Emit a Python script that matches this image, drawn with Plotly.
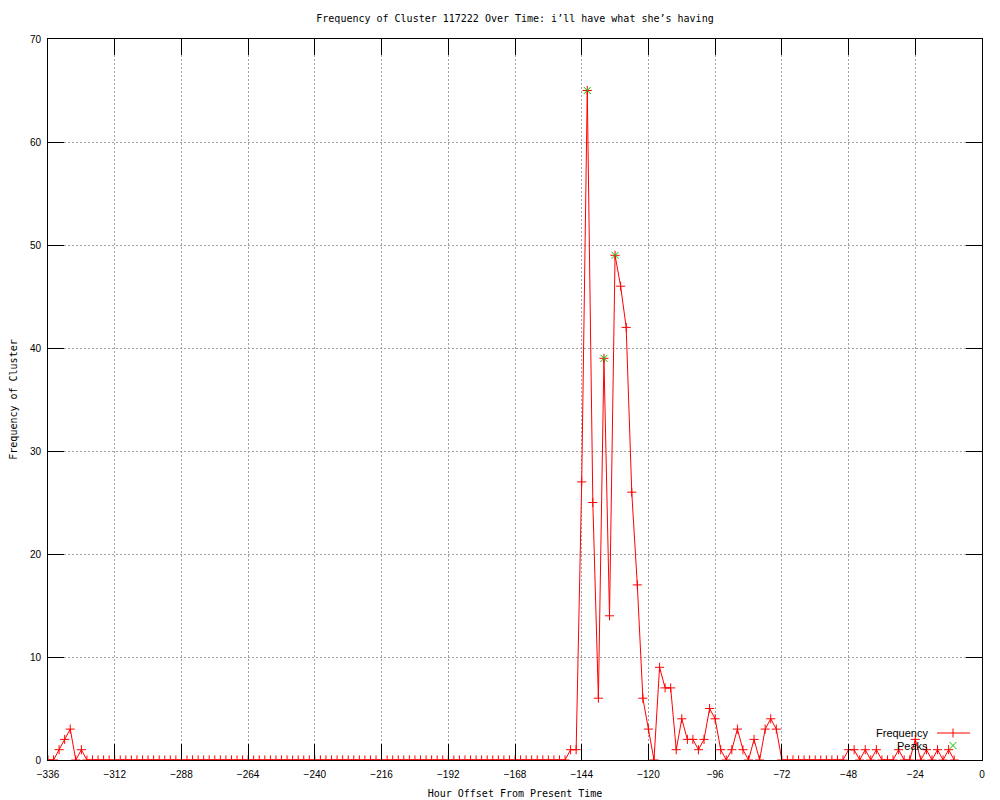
import plotly.graph_objects as go

# ---- data ----
hours = list(range(-336, -8, 2))  # sampled every 2 hours, -336 .. -10
frequency = [
    0, 0, 1, 2, 3, 0, 1, 0, 0, 0, 0, 0,        # -336 .. -314
    0, 0, 0, 0, 0, 0, 0, 0, 0, 0, 0, 0,        # -312 .. -290
    0, 0, 0, 0, 0, 0, 0, 0, 0, 0, 0, 0,        # -288 .. -266
    0, 0, 0, 0, 0, 0, 0, 0, 0, 0, 0, 0,        # -264 .. -242
    0, 0, 0, 0, 0, 0, 0, 0, 0, 0, 0, 0,        # -240 .. -218
    0, 0, 0, 0, 0, 0, 0, 0, 0, 0, 0, 0,        # -216 .. -194
    0, 0, 0, 0, 0, 0, 0, 0, 0, 0, 0, 0,        # -192 .. -170
    0, 0, 0, 0, 0, 0, 0, 0, 0, 0, 1, 1,        # -168 .. -146
    27, 65, 25, 6, 39, 14, 49, 46, 42, 26, 17, 6,  # -144 .. -122
    3, 0, 9, 7, 7, 1, 4, 2, 2, 1, 2, 5,        # -120 .. -98
    4, 1, 0, 1, 3, 1, 0, 2, 0, 3, 4, 3,        # -96 .. -74
    0, 0, 0, 0, 0, 0, 0, 0, 0, 0, 0, 0,        # -72 .. -50
    1, 1, 0, 1, 0, 1, 0, 0, 0, 1, 0, 0,        # -48 .. -26
    2, 0, 1, 0, 1, 0, 1, 0,                    # -24 .. -10
]
peak_hours = [-142, -136, -132]
peak_values = [65, 39, 49]

x_ticks = [-336, -312, -288, -264, -240, -216, -192, -168, -144, -120, -96, -72, -48, -24, 0]
y_ticks = [0, 10, 20, 30, 40, 50, 60, 70]

title_text = "Frequency of Cluster 117222 Over Time: i\u2019ll have what she\u2019s having"
x_title = "Hour Offset From Present Time"
y_title = "Frequency of Cluster"
legend_names = ["Frequency", "Peaks"]

RED = "#ff0000"
GREEN = "#00c800"
MONO = "DejaVu Sans Mono"
SANS = "Liberation Sans"

fig = go.Figure()
fig.add_trace(go.Scatter(
    x=hours, y=frequency, mode="lines+markers", name=legend_names[0],
    line=dict(color=RED, width=1),
    marker=dict(symbol="cross-thin", size=6.5, line=dict(color=RED, width=1)),
    showlegend=False,
))
fig.add_trace(go.Scatter(
    x=peak_hours, y=peak_values, mode="markers", name=legend_names[1],
    marker=dict(symbol="x-thin", size=7, line=dict(color=GREEN, width=1)),
    showlegend=False,
))

# the page body has an 8px margin, so work in figure pixels = screen pixels - 8
OFF = 8
FW, FH = 1000 - OFF, 800 - OFF
# plot area in screen pixels: left 48, right 982, top 39, bottom 760
L, R, T, B = 48, 982, 39, 760
W, H = R - L, B - T
def px(xp):
    return (xp - L) / W
def py(yp):
    return (B - yp) / H

axis_common = dict(
    showline=True, linecolor="black", linewidth=1, mirror="allticks",
    ticks="inside", ticklen=16, tickcolor="black", tickwidth=1,
    showgrid=True, gridcolor="#a0a0a0", gridwidth=1, griddash="2px,2px",
    zeroline=False, automargin=False,
    tickfont=dict(family=SANS, size=10, color="black"),
)

fig.update_layout(
    width=FW, height=FH,
    margin=dict(l=L - OFF, r=FW - (R - OFF), t=T - OFF, b=FH - (B - OFF), autoexpand=False),
    paper_bgcolor="white", plot_bgcolor="white",
    title=dict(text=title_text, x=0.5, xref="paper", y=1 - (18 - OFF) / FH, yanchor="middle",
               font=dict(family=MONO, size=10, color="black")),
    xaxis=dict(range=[-336, 0], tickvals=x_ticks, ticklabelstandoff=5,
               title=dict(text=x_title, font=dict(family=MONO, size=10, color="black"), standoff=10),
               **axis_common),
    yaxis=dict(range=[0, 70], tickvals=y_ticks, ticklabelstandoff=4,
               title=dict(text=y_title, font=dict(family=MONO, size=10, color="black"), standoff=14),
               **axis_common),
    showlegend=False,
)

# gnuplot-style key (text on the left, sample on the right), bottom-right
fig.add_annotation(x=px(930), y=py(733), xref="paper", yref="paper", text=legend_names[0],
                   showarrow=False, xanchor="right", yanchor="middle",
                   font=dict(family=SANS, size=11, color="black"))
fig.add_annotation(x=px(930), y=py(746), xref="paper", yref="paper", text=legend_names[1],
                   showarrow=False, xanchor="right", yanchor="middle",
                   font=dict(family=SANS, size=11, color="black"))
fig.add_shape(type="line", xref="paper", yref="paper",
              x0=px(937), x1=px(970), y0=py(733), y1=py(733), line=dict(color=RED, width=1))
fig.add_shape(type="line", xref="paper", yref="paper",
              x0=px(953), x1=px(953), y0=py(728.5), y1=py(737.5), line=dict(color=RED, width=1))
fig.add_shape(type="line", xref="paper", yref="paper",
              x0=px(949.5), x1=px(956.5), y0=py(742), y1=py(749), line=dict(color=GREEN, width=1))
fig.add_shape(type="line", xref="paper", yref="paper",
              x0=px(949.5), x1=px(956.5), y0=py(749), y1=py(742), line=dict(color=GREEN, width=1))

fig.write_html("out.html")
